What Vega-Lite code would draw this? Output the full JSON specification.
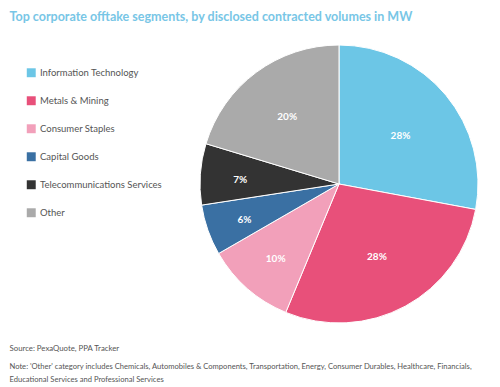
{
  "$schema": "https://vega.github.io/schema/vega-lite/v6.json",
  "background": "white",
  "padding": {"left": 9, "top": 10, "right": 5, "bottom": 2},
  "config": {"view": {"stroke": null}, "font": "Lato"},
  "title": {
    "text": "Top corporate offtake segments, by disclosed contracted volumes in MW",
    "anchor": "start",
    "frame": "bounds",
    "font": "Lato",
    "fontSize": 12.5,
    "fontWeight": "bold",
    "color": "#78C6E6",
    "offset": 20
  },
  "vconcat": [
    {
      "width": 278,
      "height": 278,
      "title": {
        "text": "Source: PexaQuote, PPA Tracker",
        "subtitle": [
          "Note: 'Other' category includes Chemicals, Automobiles & Components, Transportation, Energy, Consumer Durables, Healthcare, Financials,",
          "Educational Services and Professional Services"
        ],
        "orient": "bottom",
        "anchor": "start",
        "frame": "group",
        "dx": -190.5,
        "offset": 20,
        "font": "Lato",
        "fontSize": 7.8,
        "fontWeight": "normal",
        "color": "#555555",
        "subtitleFont": "Lato",
        "subtitleFontSize": 7.6,
        "subtitleColor": "#555555",
        "subtitlePadding": 10,
        "subtitleLineHeight": 13
      },
      "data": {
        "values": [
          {"segment": "Information Technology", "share": 0.279, "order": 1},
          {"segment": "Metals & Mining", "share": 0.283, "order": 2},
          {"segment": "Consumer Staples", "share": 0.104, "order": 3},
          {"segment": "Capital Goods", "share": 0.059, "order": 4},
          {"segment": "Telecommunications Services", "share": 0.071, "order": 5},
          {"segment": "Other", "share": 0.203, "order": 6}
        ]
      },
      "encoding": {
        "theta": {"field": "share", "type": "quantitative", "stack": true},
        "order": {"field": "order", "type": "quantitative"},
        "color": {
          "field": "segment",
          "type": "nominal",
          "sort": null,
          "scale": {
            "domain": ["Information Technology", "Metals & Mining", "Consumer Staples", "Capital Goods", "Telecommunications Services", "Other"],
            "range": ["#6CC6E6", "#E8507A", "#F2A0BA", "#3A70A3", "#333333", "#AAAAAA"]
          },
          "legend": {
            "title": null,
            "orient": "none",
            "legendX": -190.5,
            "legendY": 6,
            "symbolType": "square",
            "symbolSize": 80,
            "symbolStrokeWidth": 0,
            "symbolOpacity": 1,
            "labelFont": "Lato",
            "labelFontSize": 9.5,
            "labelColor": "#555555",
            "labelOffset": 4,
            "rowPadding": 17,
            "padding": 17
          }
        }
      },
      "layer": [
        {"mark": {"type": "arc", "stroke": "white", "strokeWidth": 1}},
        {
          "mark": {"type": "text", "color": "white", "fontWeight": "bold", "fontSize": 10, "font": "Lato", "dy": 3},
          "encoding": {
            "text": {"field": "share", "type": "quantitative", "format": ".0%"},
            "radius": {"field": "share", "type": "quantitative", "scale": {"type": "linear", "zero": false, "domain": [0.05, 0.3], "range": [101, 78]}},
            "color": {"value": "white"}
          }
        }
      ]
    }
  ]
}
